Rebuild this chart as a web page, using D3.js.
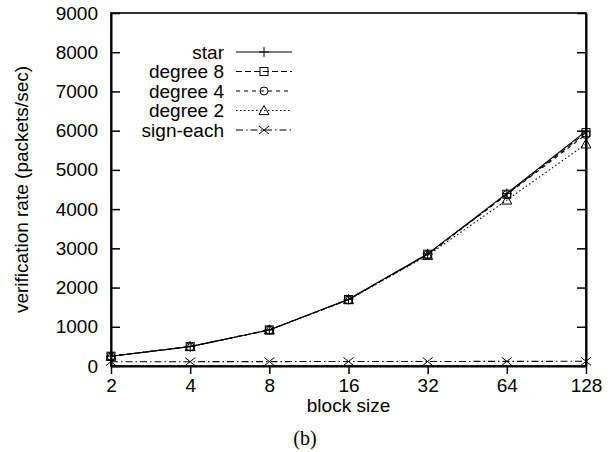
<!DOCTYPE html>
<html><head><meta charset="utf-8">
<script src="https://cdn.jsdelivr.net/npm/d3@7"></script>
<style>body{margin:0;background:#fff}</style>
</head><body>
<svg id="c" width="611" height="452"></svg>
<script>
const blockSizes = [2, 4, 8, 16, 32, 64, 128];
const seriesNames = ["star", "degree 8", "degree 4", "degree 2", "sign-each"];
const star      = [250, 495, 920, 1700, 2860, 4400, 5990];
const degree8   = [250, 495, 920, 1695, 2850, 4380, 5950];
const degree4   = [250, 495, 920, 1690, 2840, 4370, 5900];
const degree2   = [250, 495, 920, 1690, 2820, 4230, 5660];
const signEach  = [110, 110, 112, 115, 115, 118, 120];
const yTicks = [0, 1000, 2000, 3000, 4000, 5000, 6000, 7000, 8000, 9000];
const xLabel = "block size";
const yLabel = "verification rate (packets/sec)";
const caption = "(b)";

const allSeries = [star, degree8, degree4, degree2, signEach];
const dashes = [null, "6,3", "4,4", "1.5,2.5", "7,3,1.5,3"];
const markers = ["plus", "square", "circle", "triangle", "cross"];

const svg = d3.select("#c");
const L = 111, R = 586, T = 13, B = 366;
const x = d3.scaleLog().base(2).domain([2, 128]).range([L, R]);
const y = d3.scaleLinear().domain([0, 9000]).range([B, T]);
const font = "'Liberation Sans', Arial, sans-serif";
const fs = 19;

// frame
svg.append("rect").attr("x", L).attr("y", T).attr("width", R - L).attr("height", B - T)
  .attr("fill", "none").attr("stroke", "#000").attr("stroke-width", 1.6);

// left axis: inward ticks
const gl = svg.append("g").attr("transform", `translate(${L},0)`)
  .call(d3.axisLeft(y).tickValues(yTicks).tickFormat(d3.format("d")).tickSizeInner(-9).tickSizeOuter(0));
gl.select(".domain").attr("stroke-width", 2);
gl.selectAll(".tick line").attr("stroke-width", 1.5);
gl.selectAll("text").attr("font-family", font).attr("font-size", fs).attr("fill", "#000")
  .attr("text-anchor", "end").attr("x", -13);

// right axis: inward ticks
const gr = svg.append("g").attr("transform", `translate(${R},0)`)
  .call(d3.axisRight(y).tickValues(yTicks).tickSizeInner(-9).tickSizeOuter(0).tickFormat(""));
gr.select(".domain").attr("stroke-width", 2);
gr.selectAll(".tick line").attr("stroke-width", 1.5);

// bottom axis: outward ticks
const gb = svg.append("g").attr("transform", `translate(0,${B})`)
  .call(d3.axisBottom(x).tickValues(blockSizes).tickFormat(d3.format("d")).tickSizeInner(8).tickSizeOuter(0).tickPadding(5));
gb.select(".domain").attr("stroke-width", 2);
gb.selectAll(".tick line").attr("stroke-width", 1.5);
gb.selectAll("text").attr("font-family", font).attr("font-size", fs).attr("fill", "#000");

// labels
svg.append("text").attr("x", L + (R - L) / 2).attr("y", 412).attr("text-anchor", "middle")
  .attr("font-family", font).attr("font-size", fs).text(xLabel);
svg.append("text").attr("transform", `translate(28,${(T + B) / 2}) rotate(-90)`)
  .attr("text-anchor", "middle").attr("font-family", font).attr("font-size", fs).text(yLabel);
svg.append("text").attr("x", 305).attr("y", 445).attr("text-anchor", "middle")
  .attr("font-family", "'Liberation Serif', 'Times New Roman', serif").attr("font-size", 20).text(caption);

function drawMarker(g, type, cx, cy) {
  const s = 4;
  const m = g.append("g").attr("fill", "none").attr("stroke", "#000").attr("stroke-width", 1);
  if (type === "plus") {
    m.append("line").attr("x1", cx - s - 1).attr("x2", cx + s + 1).attr("y1", cy).attr("y2", cy);
    m.append("line").attr("x1", cx).attr("x2", cx).attr("y1", cy - s - 1).attr("y2", cy + s + 1);
  } else if (type === "square") {
    m.append("rect").attr("x", cx - s).attr("y", cy - s).attr("width", 2 * s).attr("height", 2 * s);
  } else if (type === "circle") {
    m.append("circle").attr("cx", cx).attr("cy", cy).attr("r", s);
  } else if (type === "triangle") {
    m.append("path").attr("d", `M${cx},${cy - s - 1}L${cx + s + 1},${cy + s}L${cx - s - 1},${cy + s}Z`);
  } else if (type === "cross") {
    m.append("line").attr("x1", cx - s - 1).attr("x2", cx + s + 1).attr("y1", cy - s).attr("y2", cy + s);
    m.append("line").attr("x1", cx - s - 1).attr("x2", cx + s + 1).attr("y1", cy + s).attr("y2", cy - s);
  }
}

const line = d3.line().x((d, i) => x(blockSizes[i])).y(d => y(d));
allSeries.forEach((vals, k) => {
  const g = svg.append("g");
  g.append("path").datum(vals).attr("d", line).attr("fill", "none").attr("stroke", "#000")
    .attr("stroke-width", 1.1).attr("stroke-dasharray", dashes[k]);
  vals.forEach((v, i) => drawMarker(g, markers[k], x(blockSizes[i]), y(v)));
});

// legend
const lx = 224, ly0 = 52, ldy = 19.5, sx1 = 236, sx2 = 292;
seriesNames.forEach((name, k) => {
  const yy = ly0 + k * ldy;
  svg.append("text").attr("x", lx).attr("y", yy).attr("dy", "0.35em").attr("text-anchor", "end")
    .attr("font-family", font).attr("font-size", fs).text(name);
  svg.append("line").attr("x1", sx1).attr("x2", sx2).attr("y1", yy).attr("y2", yy)
    .attr("stroke", "#000").attr("stroke-width", 1).attr("stroke-dasharray", dashes[k]);
  drawMarker(svg, markers[k], (sx1 + sx2) / 2, yy);
});
</script>
</body></html>
